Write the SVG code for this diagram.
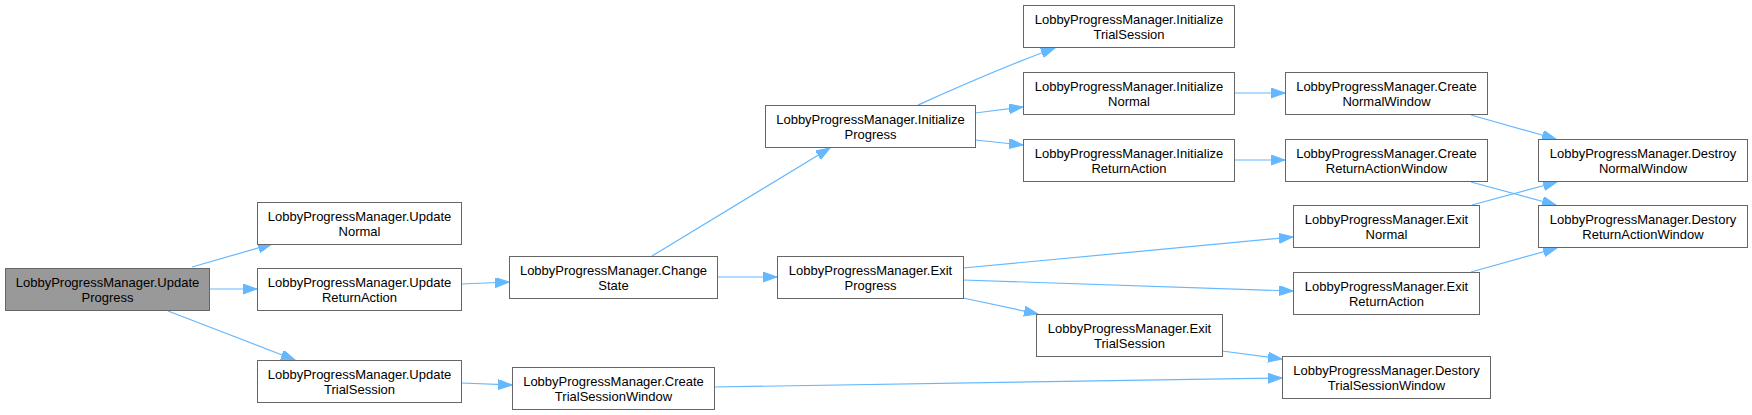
<svg xmlns="http://www.w3.org/2000/svg" width="1752" height="415" viewBox="0 0 1752 415">
<style>
.n rect{fill:#ffffff;stroke:#666666;stroke-width:1}
.n.root rect{fill:#999999}
.n text{font-family:"Liberation Sans",Arial,sans-serif;font-size:13px;fill:#000000;text-anchor:middle}
.e path{fill:none;stroke:#63b8ff;stroke-width:1.2;marker-end:url(#ah)}
</style>
<defs>
<marker id="ah" markerUnits="userSpaceOnUse" markerWidth="15" markerHeight="11" refX="14" refY="5" orient="auto">
<path d="M0,0 L14,5 L0,10 z" fill="#63b8ff" stroke="#63b8ff" stroke-width="1"/>
</marker>
</defs>
<rect width="1752" height="415" fill="#ffffff"/>
<g id="edges" class="e">
<path d="M192,267 L272,244"/>
<path d="M209,289 L257,289"/>
<path d="M168,311 L295,360"/>
<path d="M461,284 L509,282"/>
<path d="M461,383 L512,385"/>
<path d="M652,256 L830,148"/>
<path d="M717,277 L777,277"/>
<path d="M918,105 C945,93 1000,68 1055,48"/>
<path d="M975,113 L1023,107"/>
<path d="M975,140 L1023,145"/>
<path d="M1234,93 L1285,93"/>
<path d="M1234,160 L1285,160"/>
<path d="M1471,115 L1556,139"/>
<path d="M1471,182 L1556,205"/>
<path d="M1472,205 L1557,182"/>
<path d="M1471,272 L1557,248"/>
<path d="M963,268 L1293,237"/>
<path d="M963,280 L1293,291"/>
<path d="M963,298 L1038,314"/>
<path d="M1222,351 L1282,359"/>
<path d="M714,387 L1282,378"/>
</g>
<g id="UpdateProgress" class="n root"><rect x="5.5" y="268.5" width="204" height="42"/><text x="107.5" y="287">LobbyProgressManager.Update</text><text x="107.5" y="302">Progress</text></g>
<g id="UpdateNormal" class="n"><rect x="257.5" y="202.5" width="204" height="42"/><text x="359.5" y="221">LobbyProgressManager.Update</text><text x="359.5" y="236">Normal</text></g>
<g id="UpdateReturnAction" class="n"><rect x="257.5" y="268.5" width="204" height="42"/><text x="359.5" y="287">LobbyProgressManager.Update</text><text x="359.5" y="302">ReturnAction</text></g>
<g id="UpdateTrialSession" class="n"><rect x="257.5" y="360.5" width="204" height="42"/><text x="359.5" y="379">LobbyProgressManager.Update</text><text x="359.5" y="394">TrialSession</text></g>
<g id="ChangeState" class="n"><rect x="509.5" y="256.5" width="208" height="42"/><text x="613.5" y="275">LobbyProgressManager.Change</text><text x="613.5" y="290">State</text></g>
<g id="ExitProgress" class="n"><rect x="777.5" y="256.5" width="186" height="42"/><text x="870.5" y="275">LobbyProgressManager.Exit</text><text x="870.5" y="290">Progress</text></g>
<g id="CreateTrialSessionWindow" class="n"><rect x="512.5" y="367.5" width="202" height="42"/><text x="613.5" y="386">LobbyProgressManager.Create</text><text x="613.5" y="401">TrialSessionWindow</text></g>
<g id="InitializeProgress" class="n"><rect x="765.5" y="105.5" width="210" height="42"/><text x="870.5" y="124">LobbyProgressManager.Initialize</text><text x="870.5" y="139">Progress</text></g>
<g id="InitializeTrialSession" class="n"><rect x="1023.5" y="5.5" width="211" height="42"/><text x="1129" y="24">LobbyProgressManager.Initialize</text><text x="1129" y="39">TrialSession</text></g>
<g id="InitializeNormal" class="n"><rect x="1023.5" y="72.5" width="211" height="42"/><text x="1129" y="91">LobbyProgressManager.Initialize</text><text x="1129" y="106">Normal</text></g>
<g id="InitializeReturnAction" class="n"><rect x="1023.5" y="139.5" width="211" height="42"/><text x="1129" y="158">LobbyProgressManager.Initialize</text><text x="1129" y="173">ReturnAction</text></g>
<g id="CreateNormalWindow" class="n"><rect x="1285.5" y="72.5" width="202" height="42"/><text x="1386.5" y="91">LobbyProgressManager.Create</text><text x="1386.5" y="106">NormalWindow</text></g>
<g id="CreateReturnActionWindow" class="n"><rect x="1285.5" y="139.5" width="202" height="42"/><text x="1386.5" y="158">LobbyProgressManager.Create</text><text x="1386.5" y="173">ReturnActionWindow</text></g>
<g id="DestroyNormalWindow" class="n"><rect x="1538.5" y="139.5" width="209" height="42"/><text x="1643" y="158">LobbyProgressManager.Destroy</text><text x="1643" y="173">NormalWindow</text></g>
<g id="DestoryReturnActionWindow" class="n"><rect x="1538.5" y="205.5" width="209" height="42"/><text x="1643" y="224">LobbyProgressManager.Destory</text><text x="1643" y="239">ReturnActionWindow</text></g>
<g id="ExitNormal" class="n"><rect x="1293.5" y="205.5" width="186" height="42"/><text x="1386.5" y="224">LobbyProgressManager.Exit</text><text x="1386.5" y="239">Normal</text></g>
<g id="ExitReturnAction" class="n"><rect x="1293.5" y="272.5" width="186" height="42"/><text x="1386.5" y="291">LobbyProgressManager.Exit</text><text x="1386.5" y="306">ReturnAction</text></g>
<g id="ExitTrialSession" class="n"><rect x="1036.5" y="314.5" width="186" height="42"/><text x="1129.5" y="333">LobbyProgressManager.Exit</text><text x="1129.5" y="348">TrialSession</text></g>
<g id="DestoryTrialSessionWindow" class="n"><rect x="1282.5" y="356.5" width="208" height="42"/><text x="1386.5" y="375">LobbyProgressManager.Destory</text><text x="1386.5" y="390">TrialSessionWindow</text></g>
</svg>
